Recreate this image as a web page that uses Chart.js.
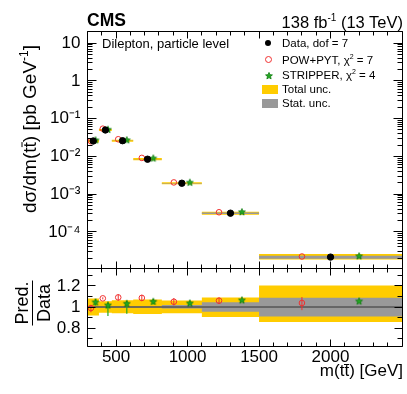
<!DOCTYPE html>
<html>
<head>
<meta charset="utf-8">
<script src="https://cdn.jsdelivr.net/npm/chart.js@4.4.0/dist/chart.umd.min.js"></script>
<style>
body { margin: 0; background: #fff; }
#wrap { position: relative; width: 407px; height: 394px; overflow: hidden; font-family: "Liberation Sans", Arial, sans-serif; color: #000; }
#wrap canvas { position: absolute; left: 0; top: 0; }
.t { position: absolute; white-space: nowrap; line-height: 1; }
.mk { position: absolute; }
.bar { display: inline-block; border-top: 1px solid #000; line-height: 0.72em; }
</style>
</head>
<body>
<div id="wrap">
  <canvas id="upper" width="407" height="394"></canvas>
  <canvas id="lower" width="407" height="394"></canvas>

  <div class="t" style="left:87px; top:12px; font-size:17.5px; font-weight:bold;">CMS</div>
  <div class="t" style="right:4px; top:12.5px; font-size:16.5px;">138 fb<sup style="font-size:10px; vertical-align:7px;">-1</sup> (13 TeV)</div>
  <div class="t" style="left:102px; top:36.5px; font-size:13px;">Dilepton, particle level</div>

  <!-- legend -->
  <div class="mk" style="left:265px; top:40px; width:6px; height:6px; border-radius:50%; background:#000;"></div>
  <div class="mk" style="left:265px; top:56px; width:5px; height:5px; border-radius:50%; border:1px solid #f03030;"></div>
  <div class="mk" id="legStar" style="left:264px; top:71px;"></div>
  <div class="mk" style="left:262px; top:85px; width:16px; height:9px; background:#ffcc00;"></div>
  <div class="mk" style="left:262px; top:99px; width:16px; height:9px; background:#999999;"></div>
  <div class="t" style="left:282px; top:37.5px; font-size:11.5px;">Data, dof = 7</div>
  <div class="t" style="left:282px; top:53px; font-size:11.5px;">POW+PYT, χ<sup style="font-size:7px; vertical-align:5px;">2</sup> = 7</div>
  <div class="t" style="left:282px; top:68px; font-size:11.5px;">STRIPPER, χ<sup style="font-size:7px; vertical-align:5px;">2</sup> = 4</div>
  <div class="t" style="left:282px; top:83.5px; font-size:11.5px;">Total unc.</div>
  <div class="t" style="left:282px; top:97.5px; font-size:11.5px;">Stat. unc.</div>

  <!-- axis titles -->
  <div class="t" style="left:28px; top:129px; font-size:19px; transform: translate(-50%,-50%) rotate(-90deg);">dσ/dm(t<span class="bar">t</span>) [pb GeV<sup style="font-size:12px; vertical-align:8px;">-1</sup>]</div>
  <div class="t" style="left:33px; top:303px; font-size:18px; text-align:center; transform: translate(-50%,-50%) rotate(-90deg);">
    <div style="border-bottom:1.5px solid #000; padding:0 1px 1px 1px;">Pred.</div>
    <div style="padding-top:2px;">Data</div>
  </div>
  <div class="t" style="right:4px; top:362px; font-size:17px;">m(t<span class="bar">t</span>) [GeV]</div>
</div>

<script>
// binning and values
const binEdges = [300, 380, 470, 620, 820, 1100, 1500, 2500];
const massData = [340, 425, 545, 720, 960, 1300, 2000];
const massPow = [324, 407, 515, 680, 904, 1220, 1800];
const massStrip = [356, 443, 575, 760, 1016, 1380, 2200];

const xsecData = [0.0255, 0.050, 0.026, 0.0084, 0.00194, 0.000312, 2.14e-5];
const xsecPow = [0.0252, 0.0541, 0.0284, 0.0091, 0.00204, 0.00033, 2.22e-5];
const xsecStrip = [0.0266, 0.0508, 0.0268, 0.0088, 0.00201, 0.000332, 2.25e-5];

const ratioPow = [0.99, 1.082, 1.091, 1.086, 1.05, 1.06, 1.038];
const ratioStrip = [1.044, 1.015, 1.031, 1.05, 1.034, 1.063, 1.053];
const powErrUp = [0.03, 0.01, 0.03, 0.03, 0.035, 0.03, 0.057];
const powErrDn = [0.04, 0.01, 0.03, 0.03, 0.035, 0.03, 0.068];
const stripErrUp = [0.03, 0.02, 0.022, 0.025, 0.015, 0.012, 0.012];
const stripErrDn = [0.03, 0.1, 0.095, 0.025, 0.015, 0.012, 0.012];

// relative uncertainties (pred./data band)
const totUp = [1.08, 1.055, 1.064, 1.07, 1.061, 1.09, 1.205];
const totDn = [0.92, 0.945, 0.94, 0.934, 0.94, 0.904, 0.857];
const statUp = [1.006, 1.006, 1.006, 1.006, 1.018, 1.045, 1.087];
const statDn = [0.994, 0.994, 0.994, 0.994, 0.985, 0.955, 0.91];

const logTicks = [1e-4, 1e-3, 1e-2, 1e-1, 1, 10];
const logTickLabels = ['10⁻⁴', '10⁻³', '10⁻²', '10⁻¹', '1', '10'];
const massTicks = [500, 1000, 1500, 2000];
const ratioTicks = [0.8, 1, 1.2];
const ratioTickLabels = ['0.8', '1', '1.2'];

const YELLOW = '#ffcc00';
const GREY = '#999999';
const RED = '#f03030';
const GREEN = '#22a822';
const FONT = '"Liberation Sans", Arial, sans-serif';

function makeStar(r) {
    const c = document.createElement('canvas');
    const s = Math.ceil(2 * r + 2);
    c.width = s; c.height = s;
    const g = c.getContext('2d');
    g.beginPath();
    for (let i = 0; i < 10; i++) {
        const rad = i % 2 ? r * 0.45 : r;
        const ang = -Math.PI / 2 + i * Math.PI / 5;
        g.lineTo(s / 2 + rad * Math.cos(ang), s / 2 + rad * Math.sin(ang));
    }
    g.closePath();
    g.fillStyle = GREEN;
    g.fill();
    g.strokeStyle = '#0c7a0c';
    g.lineWidth = 0.8;
    g.stroke();
    return c;
}
const starImg = makeStar(3.6);
document.getElementById('legStar').appendChild(makeStar(3.6));

// box outline of a band: flat over each bin, vertical at the edges
function bandPoints(base, rel) {
    const out = [];
    rel.forEach((r, i) => {
        const v = (base ? base[i] : 1) * r;
        out.push({ x: binEdges[i], y: v }, { x: binEdges[i + 1], y: v });
    });
    return out;
}
function pts(xs, ys) {
    return xs.map((x, i) => ({ x: x, y: ys[i] }));
}
function errPoints(xs, ys, up, dn) {
    const out = [];
    xs.forEach((x, i) => {
        out.push({ x: x, y: ys[i] - dn[i] }, { x: x, y: ys[i] + up[i] }, { x: x, y: null });
    });
    return out;
}
function band(data, color, fill, order) {
    return { data: data, borderWidth: 0, borderColor: color,
        backgroundColor: color, pointRadius: 0, fill: fill, order: order };
}
function markers(data, style, radius, fillColor, borderColor) {
    return { data: data, showLine: false, pointStyle: style, pointRadius: radius,
        pointBackgroundColor: fillColor, pointBorderColor: borderColor,
        pointBorderWidth: 1, order: 0 };
}

// frame and inward ticks like the ROOT style
const framePlugin = {
    id: 'frame',
    afterDatasetsDraw(chart, args, opts) {
        const ctx = chart.ctx, a = chart.chartArea;
        const xs = chart.scales.x, ys = chart.scales.y;
        const L = Math.floor(a.left) + 0.5, R = Math.floor(a.right) + 0.5;
        const T = Math.floor(a.top) + 0.5, B = Math.floor(a.bottom) + 0.5;
        ctx.save();
        ctx.strokeStyle = '#000';
        ctx.lineWidth = 1;
        ctx.beginPath();
        ctx.rect(L, T, R - L, B - T);
        for (let m = 300; m <= 2500; m += 100) {
            const px = Math.floor(xs.getPixelForValue(m)) + 0.5;
            const len = m % 500 === 0 ? 7 : 4;
            ctx.moveTo(px, B); ctx.lineTo(px, B - len);
            ctx.moveTo(px, T); ctx.lineTo(px, T + len);
        }
        if (opts.kind === 'log') {
            for (let e = -5; e <= 1; e++) {
                for (let k = 1; k <= 9; k++) {
                    const v = k * Math.pow(10, e);
                    if (v < ys.min || v > ys.max) continue;
                    const py = Math.floor(ys.getPixelForValue(v)) + 0.5;
                    const len = k === 1 ? 9 : 5;
                    ctx.moveTo(L, py); ctx.lineTo(L + len, py);
                    ctx.moveTo(R, py); ctx.lineTo(R - len, py);
                }
            }
        } else {
            for (let i = 7; i <= 13; i++) {
                const v = i / 10;
                const py = Math.floor(ys.getPixelForValue(v)) + 0.5;
                const len = i % 2 === 0 ? 8 : 5;
                ctx.moveTo(L, py); ctx.lineTo(L + len, py);
                ctx.moveTo(R, py); ctx.lineTo(R - len, py);
            }
        }
        ctx.stroke();
        ctx.restore();
    }
};

const common = {
    responsive: false,
    animation: false,
    events: [],
    elements: { line: { tension: 0 } },
};

new Chart(document.getElementById('upper'), {
    type: 'line',
    data: {
        datasets: [
            markers(pts(massData, xsecData), 'circle', 3.2, '#000', '#000'),
            markers(pts(massPow, xsecPow), 'circle', 2.8, 'rgba(0,0,0,0)', RED),
            markers(pts(massStrip, xsecStrip), starImg, 4, GREEN, GREEN),
            band(bandPoints(xsecData, statUp), GREY, '+1', 3),
            band(bandPoints(xsecData, statDn), GREY, false, 3),
            band(bandPoints(xsecData, totUp), YELLOW, '+1', 4),
            band(bandPoints(xsecData, totDn), YELLOW, false, 4),
        ]
    },
    options: {
        ...common,
        layout: { padding: { left: 0, right: 3, top: 31, bottom: 126 } },
        plugins: { legend: { display: false }, tooltip: { enabled: false }, frame: { kind: 'log' } },
        scales: {
            x: { type: 'linear', min: 300, max: 2500, display: false },
            y: {
                type: 'logarithmic', min: 1.1e-5, max: 21,
                afterFit: (s) => { s.width = 87.5; },
                afterBuildTicks: (s) => { s.ticks = logTicks.map(v => ({ value: v })); },
                ticks: {
                    callback: (v, i) => logTickLabels[i],
                    font: { family: FONT, size: 17 }, color: '#000', padding: 7, autoSkip: false
                },
                grid: { display: false, drawTicks: false },
                border: { display: false }
            }
        }
    },
    plugins: [framePlugin]
});

new Chart(document.getElementById('lower'), {
    type: 'line',
    data: {
        datasets: [
            markers(pts(massPow, ratioPow), 'circle', 2.8, 'rgba(0,0,0,0)', RED),
            markers(pts(massStrip, ratioStrip), starImg, 4, GREEN, GREEN),
            { data: errPoints(massPow, ratioPow, powErrUp, powErrDn), borderColor: RED, borderWidth: 1,
              pointRadius: 0, spanGaps: false, order: 1 },
            { data: errPoints(massStrip, ratioStrip, stripErrUp, stripErrDn), borderColor: GREEN, borderWidth: 1.2,
              pointRadius: 0, spanGaps: false, order: 1 },
            { data: [{ x: 300, y: 1 }, { x: 2500, y: 1 }], borderColor: '#333', borderWidth: 1,
              pointRadius: 0, order: 2 },
            band(bandPoints(null, statUp), GREY, '+1', 3),
            band(bandPoints(null, statDn), GREY, false, 3),
            band(bandPoints(null, totUp), YELLOW, '+1', 4),
            band(bandPoints(null, totDn), YELLOW, false, 4),
        ]
    },
    options: {
        ...common,
        layout: { padding: { left: 0, right: 3, top: 268, bottom: 18 } },
        plugins: { legend: { display: false }, tooltip: { enabled: false }, frame: { kind: 'ratio' } },
        scales: {
            x: {
                type: 'linear', min: 300, max: 2500,
                afterFit: (s) => { s.height = 30; },
                afterBuildTicks: (s) => { s.ticks = massTicks.map(v => ({ value: v })); },
                ticks: { font: { family: FONT, size: 17 }, color: '#000', padding: 1, maxRotation: 0, autoSkip: false,
                    callback: (v) => String(v) },
                grid: { display: false, drawTicks: false },
                border: { display: false }
            },
            y: {
                type: 'linear', min: 0.63, max: 1.37,
                afterFit: (s) => { s.width = 87.5; },
                afterBuildTicks: (s) => { s.ticks = ratioTicks.map(v => ({ value: v })); },
                ticks: { callback: (v, i) => ratioTickLabels[i],
                    font: { family: FONT, size: 17 }, color: '#000', padding: 7, autoSkip: false },
                grid: { display: false, drawTicks: false },
                border: { display: false }
            }
        }
    },
    plugins: [framePlugin]
});
</script>
</body>
</html>
